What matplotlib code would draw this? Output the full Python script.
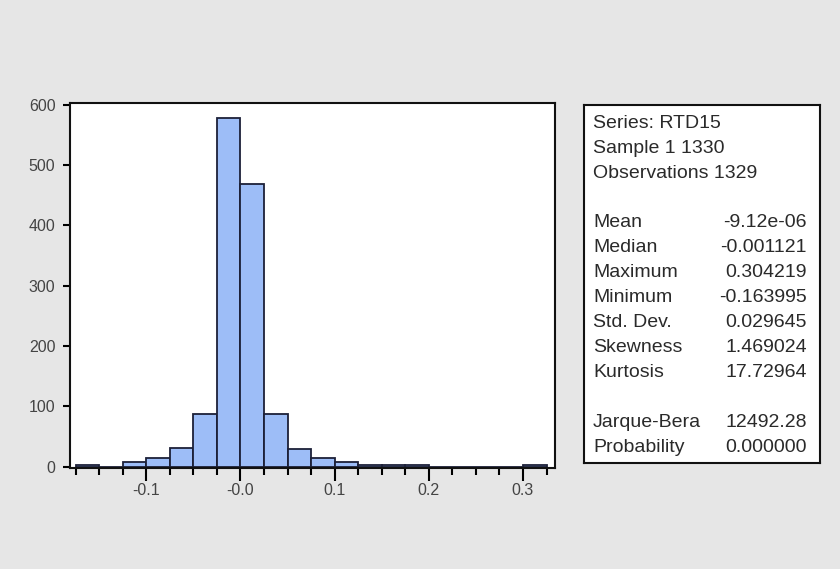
import numpy as np
import matplotlib
matplotlib.use('Agg')
import matplotlib.pyplot as plt

# histogram data (bins of width 0.025 starting at -0.175)
bin_start = -0.175
bin_width = 0.025
counts = [3, 0, 8, 14, 31, 88, 578, 468, 88, 29, 15, 8, 3, 3, 3, 0, 0, 0, 0, 3]

xticks = [-0.1, 0.0, 0.1, 0.2, 0.3]
xtick_labels = ['-0.1', '-0.0', '0.1', '0.2', '0.3']
yticks = [0, 100, 200, 300, 400, 500, 600]

stat_head = ['Series: RTD15', 'Sample 1 1330', 'Observations 1329']
stat_names = ['Mean', 'Median', 'Maximum', 'Minimum', 'Std. Dev.', 'Skewness', 'Kurtosis']
stat_values = ['-9.12e-06', '-0.001121', '0.304219', '-0.163995', '0.029645', '1.469024', '17.72964']
test_names = ['Jarque-Bera', 'Probability']
test_values = ['12492.28', '0.000000']

plt.rcParams['font.family'] = ['Liberation Sans', 'DejaVu Sans']

W, H = 840, 569
fig = plt.figure(figsize=(W/100, H/100), dpi=100)
fig.patch.set_facecolor('#E6E6E6')

# histogram panel
ax = fig.add_axes([70/W, 1-468/H, 485/W, 365/H])
ax.set_facecolor('white')
n = len(counts)
left_edges = bin_start + bin_width*np.arange(n)
ax.bar(left_edges, counts, width=bin_width, align='edge',
       color='#9DBDF7', edgecolor='#1c2038', linewidth=1.3, zorder=2)
ax.set_xlim(-0.181, 0.334)
ax.set_ylim(-2, 603)
ax.set_yticks(yticks)
ax.set_xticks(xticks)
ax.set_xticklabels(xtick_labels)
ax.set_xticks(bin_start + bin_width*np.arange(n+1), minor=True)
for s in ax.spines.values():
    s.set_linewidth(1.5)
    s.set_color('#111111')
ax.tick_params(axis='x', which='major', length=9.5, width=1.5, direction='out',
               labelsize=11.5, pad=1.5, labelcolor='#444444')
ax.tick_params(axis='x', which='minor', length=5, width=1.5, direction='out')
ax.tick_params(axis='y', which='major', length=5, width=1.5, direction='out',
               labelsize=11.5, pad=5.5, labelcolor='#444444')

# statistics box
bx = fig.add_axes([584/W, 1-463/H, 236/W, 358/H])
bx.set_facecolor('white')
bx.set_xticks([])
bx.set_yticks([])
for s in bx.spines.values():
    s.set_linewidth(1.5)
    s.set_color('#111111')

x_lab = 593/W
x_val = 807/W
y0 = 123.3
dy = 24.9
fs = 14
tc = '#2a2a2a'
row = 0
for t in stat_head:
    fig.text(x_lab, 1-(y0+row*dy)/H, t, fontsize=fs, color=tc, va='center', ha='left')
    row += 1
row += 1
for name, val in zip(stat_names, stat_values):
    fig.text(x_lab, 1-(y0+row*dy)/H, name, fontsize=fs, color=tc, va='center', ha='left')
    fig.text(x_val, 1-(y0+row*dy)/H, val, fontsize=fs, color=tc, va='center', ha='right')
    row += 1
row += 1
for name, val in zip(test_names, test_values):
    fig.text(x_lab, 1-(y0+row*dy)/H, name, fontsize=fs, color=tc, va='center', ha='left')
    fig.text(x_val, 1-(y0+row*dy)/H, val, fontsize=fs, color=tc, va='center', ha='right')
    row += 1

fig.savefig('out.png', dpi=100, facecolor=fig.get_facecolor())
